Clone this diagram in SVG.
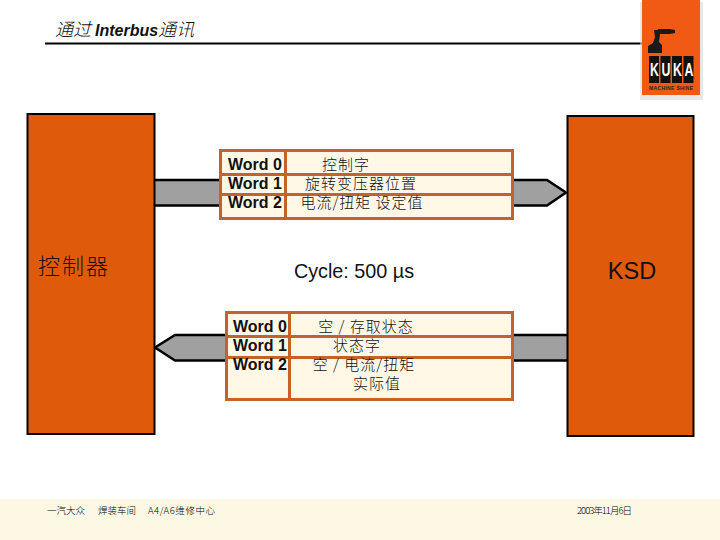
<svg xmlns="http://www.w3.org/2000/svg" width="720" height="540" viewBox="0 0 720 540">
<style>
.blk{fill:#e05a0c;stroke:#000;stroke-width:2}
.arrow{fill:#a0a0a0;stroke:#000;stroke-width:2.5}
.tbl{fill:#fff8e6;stroke:#c4622a;stroke-width:3}
.ln{stroke:#c4622a;stroke-width:3;fill:none}
text{font-family:"Liberation Sans","Noto Sans CJK SC",sans-serif;fill:#111}
.w{font-size:16px;font-weight:bold}
.c{font-size:15px;letter-spacing:1px;font-weight:300;text-anchor:middle;font-family:"Noto Sans CJK SC",sans-serif}
.foot{font-size:9.500px;font-family:"Noto Sans CJK SC",sans-serif;font-weight:300;fill:#000}
.tile{fill:#111}
.k{font-size:19px;font-weight:bold;fill:#fff}
</style>
<rect x="0" y="499" width="720" height="41" fill="#fdf8e4"/>
<g id="title">
<text x="55" y="36" font-size="18" font-style="italic"><tspan style="font-family:'Noto Sans CJK SC',sans-serif;font-weight:300">通过 </tspan><tspan font-weight="bold" font-size="16">Interbus</tspan><tspan style="font-family:'Noto Sans CJK SC',sans-serif;font-weight:300">通讯</tspan></text>
<line x1="45" y1="43.500" x2="645" y2="43.500" stroke="#000" stroke-width="2"/>
</g>
<g id="logo">
<rect x="640" y="2" width="63" height="98" fill="#d8d8d8" opacity="0.6"/>
<rect x="642" y="0" width="58" height="95" fill="#f05a14"/>
<path d="M654 30h4v-1h12l5 1v3l-5 1h-10l-1 8 3 3v8h-14v-7l5-3 2-6z" fill="#1a1a1a"/>
<rect class="tile" x="649" y="56" width="10" height="27"/>
<rect class="tile" x="660.500" y="56" width="10" height="27"/>
<rect class="tile" x="672" y="56" width="10" height="27"/>
<rect class="tile" x="683.500" y="56" width="10" height="27"/>
<text class="k" transform="translate(650,76) scale(0.65,1)" x="0 17.700 35.400 53.100" y="0">KUKA</text>
<text x="649" y="90" font-size="5" font-weight="bold" textLength="44" style="fill:#222">MACHINE SHINE</text>
</g>
<g id="connectors">
<path class="arrow" d="M153 180H547L566 192.500L547 205.500H153Z"/>
<path class="arrow" d="M569 335H175L155 347.500L175 360.500H569Z"/>
</g>
<g id="controller">
<rect class="blk" x="27.500" y="114" width="127" height="320"/>
<text x="74" y="274" font-size="22" letter-spacing="2" font-weight="300" text-anchor="middle" style="font-family:'Noto Sans CJK SC',sans-serif">控制器</text>
</g>
<g id="ksd">
<rect class="blk" x="567.500" y="116" width="126" height="320"/>
<text x="632" y="279" font-size="23.500" text-anchor="middle">KSD</text>
</g>
<g id="cycle">
<text x="354" y="278" font-size="19.800" text-anchor="middle">Cycle: 500 µs</text>
</g>
<g id="table-top">
<rect class="tbl" x="220.500" y="150.500" width="292" height="68"/>
<path class="ln" d="M285.500 150V218M220 174.500H512M220 194.500H512"/>
<text class="w" x="228" y="170">Word 0</text>
<text class="w" x="228" y="189">Word 1</text>
<text class="w" x="228" y="208">Word 2</text>
<text class="c" x="346" y="170">控制字</text>
<text class="c" x="361" y="189">旋转变压器位置</text>
<text class="c" x="362" y="208">电流/扭矩 设定值</text>
</g>
<g id="table-bottom">
<rect class="tbl" x="226.500" y="312.500" width="286" height="87"/>
<path class="ln" d="M289.500 312V400M226 336.500H512M226 357.500H512"/>
<text class="w" x="233" y="332">Word 0</text>
<text class="w" x="233" y="351">Word 1</text>
<text class="w" x="233" y="370">Word 2</text>
<text class="c" x="366" y="332">空 / 存取状态</text>
<text class="c" x="357" y="351">状态字</text>
<text class="c" x="364" y="370">空 / 电流/扭矩</text>
<text class="c" x="377" y="389">实际值</text>
</g>
<g id="footer">
<text class="foot" x="47" y="514">一汽大众</text>
<text class="foot" x="98" y="514">焊装车间</text>
<text class="foot" x="148" y="514" textLength="67">A4/A6维修中心</text>
<text class="foot" x="577" y="514" textLength="55">2003年11月6日</text>
</g>
</svg>
